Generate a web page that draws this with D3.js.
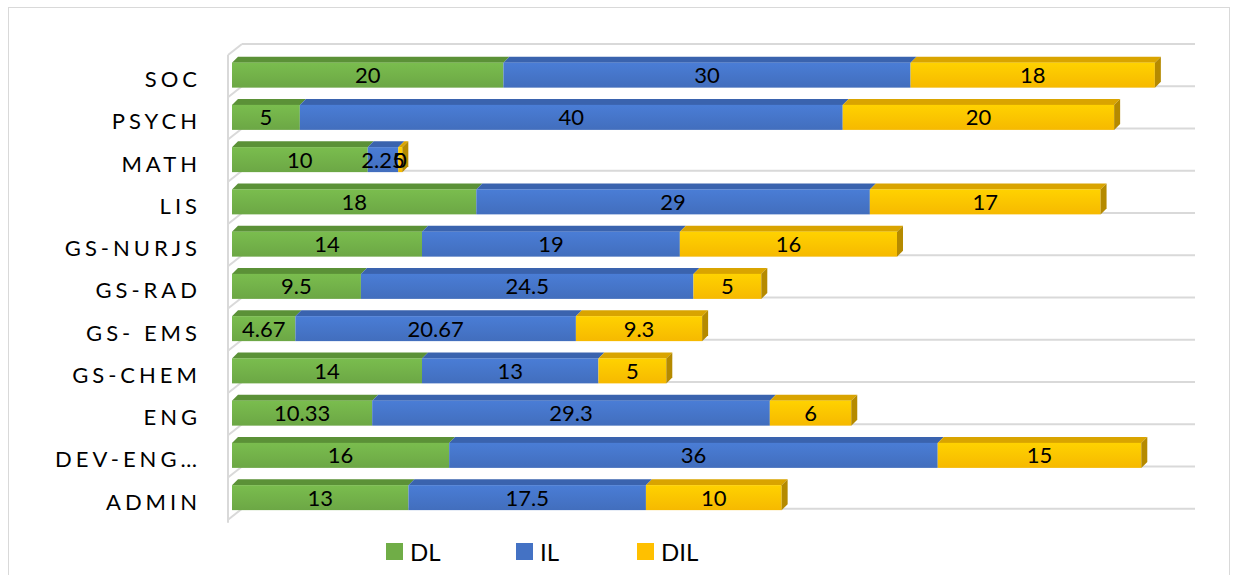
<!DOCTYPE html>
<html><head><meta charset="utf-8">
<script src="https://cdn.jsdelivr.net/npm/d3@7"></script>
<style>body{margin:0;background:#fff}svg{display:block}</style>
</head><body><svg id="c" width="1238" height="575"></svg>
<script>
const categories = ["SOC","PSYCH","MATH","LIS","GS-NURJS","GS-RAD","GS- EMS","GS-CHEM","ENG","DEV-ENG…","ADMIN"];
const seriesNames = ["DL","IL","DIL"];
const dl  = [20, 5, 10, 18, 14, 9.5, 4.67, 14, 10.33, 16, 13];
const il  = [30, 40, 2.25, 29, 19, 24.5, 20.67, 13, 29.3, 36, 17.5];
const dil = [18, 20, 0.3, 17, 16, 5, 9.3, 5, 6, 15, 10];
const dilLabels = ["18","20","0","17","16","5","9.3","5","6","15","10"];
const colors = {front:["#70AD47","#4472C4","#FFC000"], top:["#5B9137","#3A63AE","#D9A400"], side:["#4F7F30","#2F5597","#B58A00"]};

const svg = d3.select("#c");
const font = "Lato, 'Open Sans', sans-serif";
svg.append("rect").attr("x",8.5).attr("y",7.5).attr("width",1221).attr("height",600).attr("fill","none").attr("stroke","#d9d9d9");

const defs = svg.append("defs");
colors.front.forEach((c,k) => {
  const g = defs.append("linearGradient").attr("id","g"+k).attr("x1",0).attr("x2",0).attr("y1",0).attr("y2",1);
  g.append("stop").attr("offset","0%").attr("stop-color",d3.color(c).brighter(0.25));
  g.append("stop").attr("offset","100%").attr("stop-color",d3.color(c).darker(0.1));
});

const x = d3.scaleLinear().domain([0,70]).range([232,1182]);
const y = d3.scaleBand().domain(categories).range([54, 54 + 42.25*categories.length]);
const depth = 6, faceH = 25, wallD = 10;

// back wall gridlines
const bounds = categories.map(c => y(c)).concat([y.range()[1]]);
const grid = svg.append("g").attr("stroke","#d9d9d9").attr("stroke-width",2).attr("fill","none");
bounds.forEach(b => {
  grid.append("line").attr("x1",x(0)+wallD).attr("x2",1195).attr("y1",b-wallD).attr("y2",b-wallD);
  grid.append("line").attr("x1",x(0)-4).attr("x2",x(0)+wallD).attr("y1",b+1).attr("y2",b-wallD);
});
grid.append("line").attr("x1",x(0)-4).attr("x2",x(0)-4).attr("y1",bounds[0]+1).attr("y2",bounds[bounds.length-1]+4);

// bars
const data = categories.map((c,i) => ({c, vals:[dl[i],il[i],dil[i]], labels:[String(dl[i]),String(il[i]),dilLabels[i]]}));
const gBars = svg.append("g");
data.forEach(d => {
  const cy = y(d.c) + y.bandwidth()/2;
  const top = cy - faceH/2;
  let acc = 0;
  const segs = d.vals.map((v,k) => { const s = {k, x0:acc, x1:acc+v, label:d.labels[k]}; acc += v; return s; });
  segs.forEach(s => {
    const X0 = x(s.x0), X1 = x(s.x1);
    gBars.append("path").attr("d",`M${X0},${top}L${X0+depth},${top-depth}L${X1+depth},${top-depth}L${X1},${top}Z`).attr("fill",colors.top[s.k]);
    gBars.append("rect").attr("x",X0).attr("y",top).attr("width",X1-X0).attr("height",faceH).attr("fill",`url(#g${s.k})`);
  });
  const last = segs[segs.length-1], XE = x(last.x1);
  gBars.append("path").attr("d",`M${XE},${top}L${XE+depth},${top-depth}L${XE+depth},${top+faceH-depth}L${XE},${top+faceH}Z`).attr("fill",colors.side[last.k]);
  segs.forEach(s => {
    gBars.append("text").attr("x",(x(s.x0)+x(s.x1))/2).attr("y",cy+8).attr("text-anchor","middle")
      .attr("font-family",font).attr("font-size",22).attr("fill","#000").text(s.label);
  });
});

// category labels
const yAxis = d3.axisLeft(y).tickSize(0).tickPadding(0);
const ax = svg.append("g").attr("transform","translate(201,0)").call(yAxis);
ax.select(".domain").remove();
ax.selectAll("text").attr("font-family",font).attr("font-size",22).attr("fill","#000")
  .attr("letter-spacing","4px").attr("dy","0.55em");

// legend
const legX = [386, 516, 637];
const leg = svg.append("g");
seriesNames.forEach((n,k) => {
  leg.append("rect").attr("x",legX[k]).attr("y",543).attr("width",17).attr("height",17).attr("fill",colors.front[k]);
  leg.append("text").attr("x",legX[k]+24).attr("y",561).attr("font-family",font).attr("font-size",24).attr("fill","#000").text(n);
});
</script></body></html>
